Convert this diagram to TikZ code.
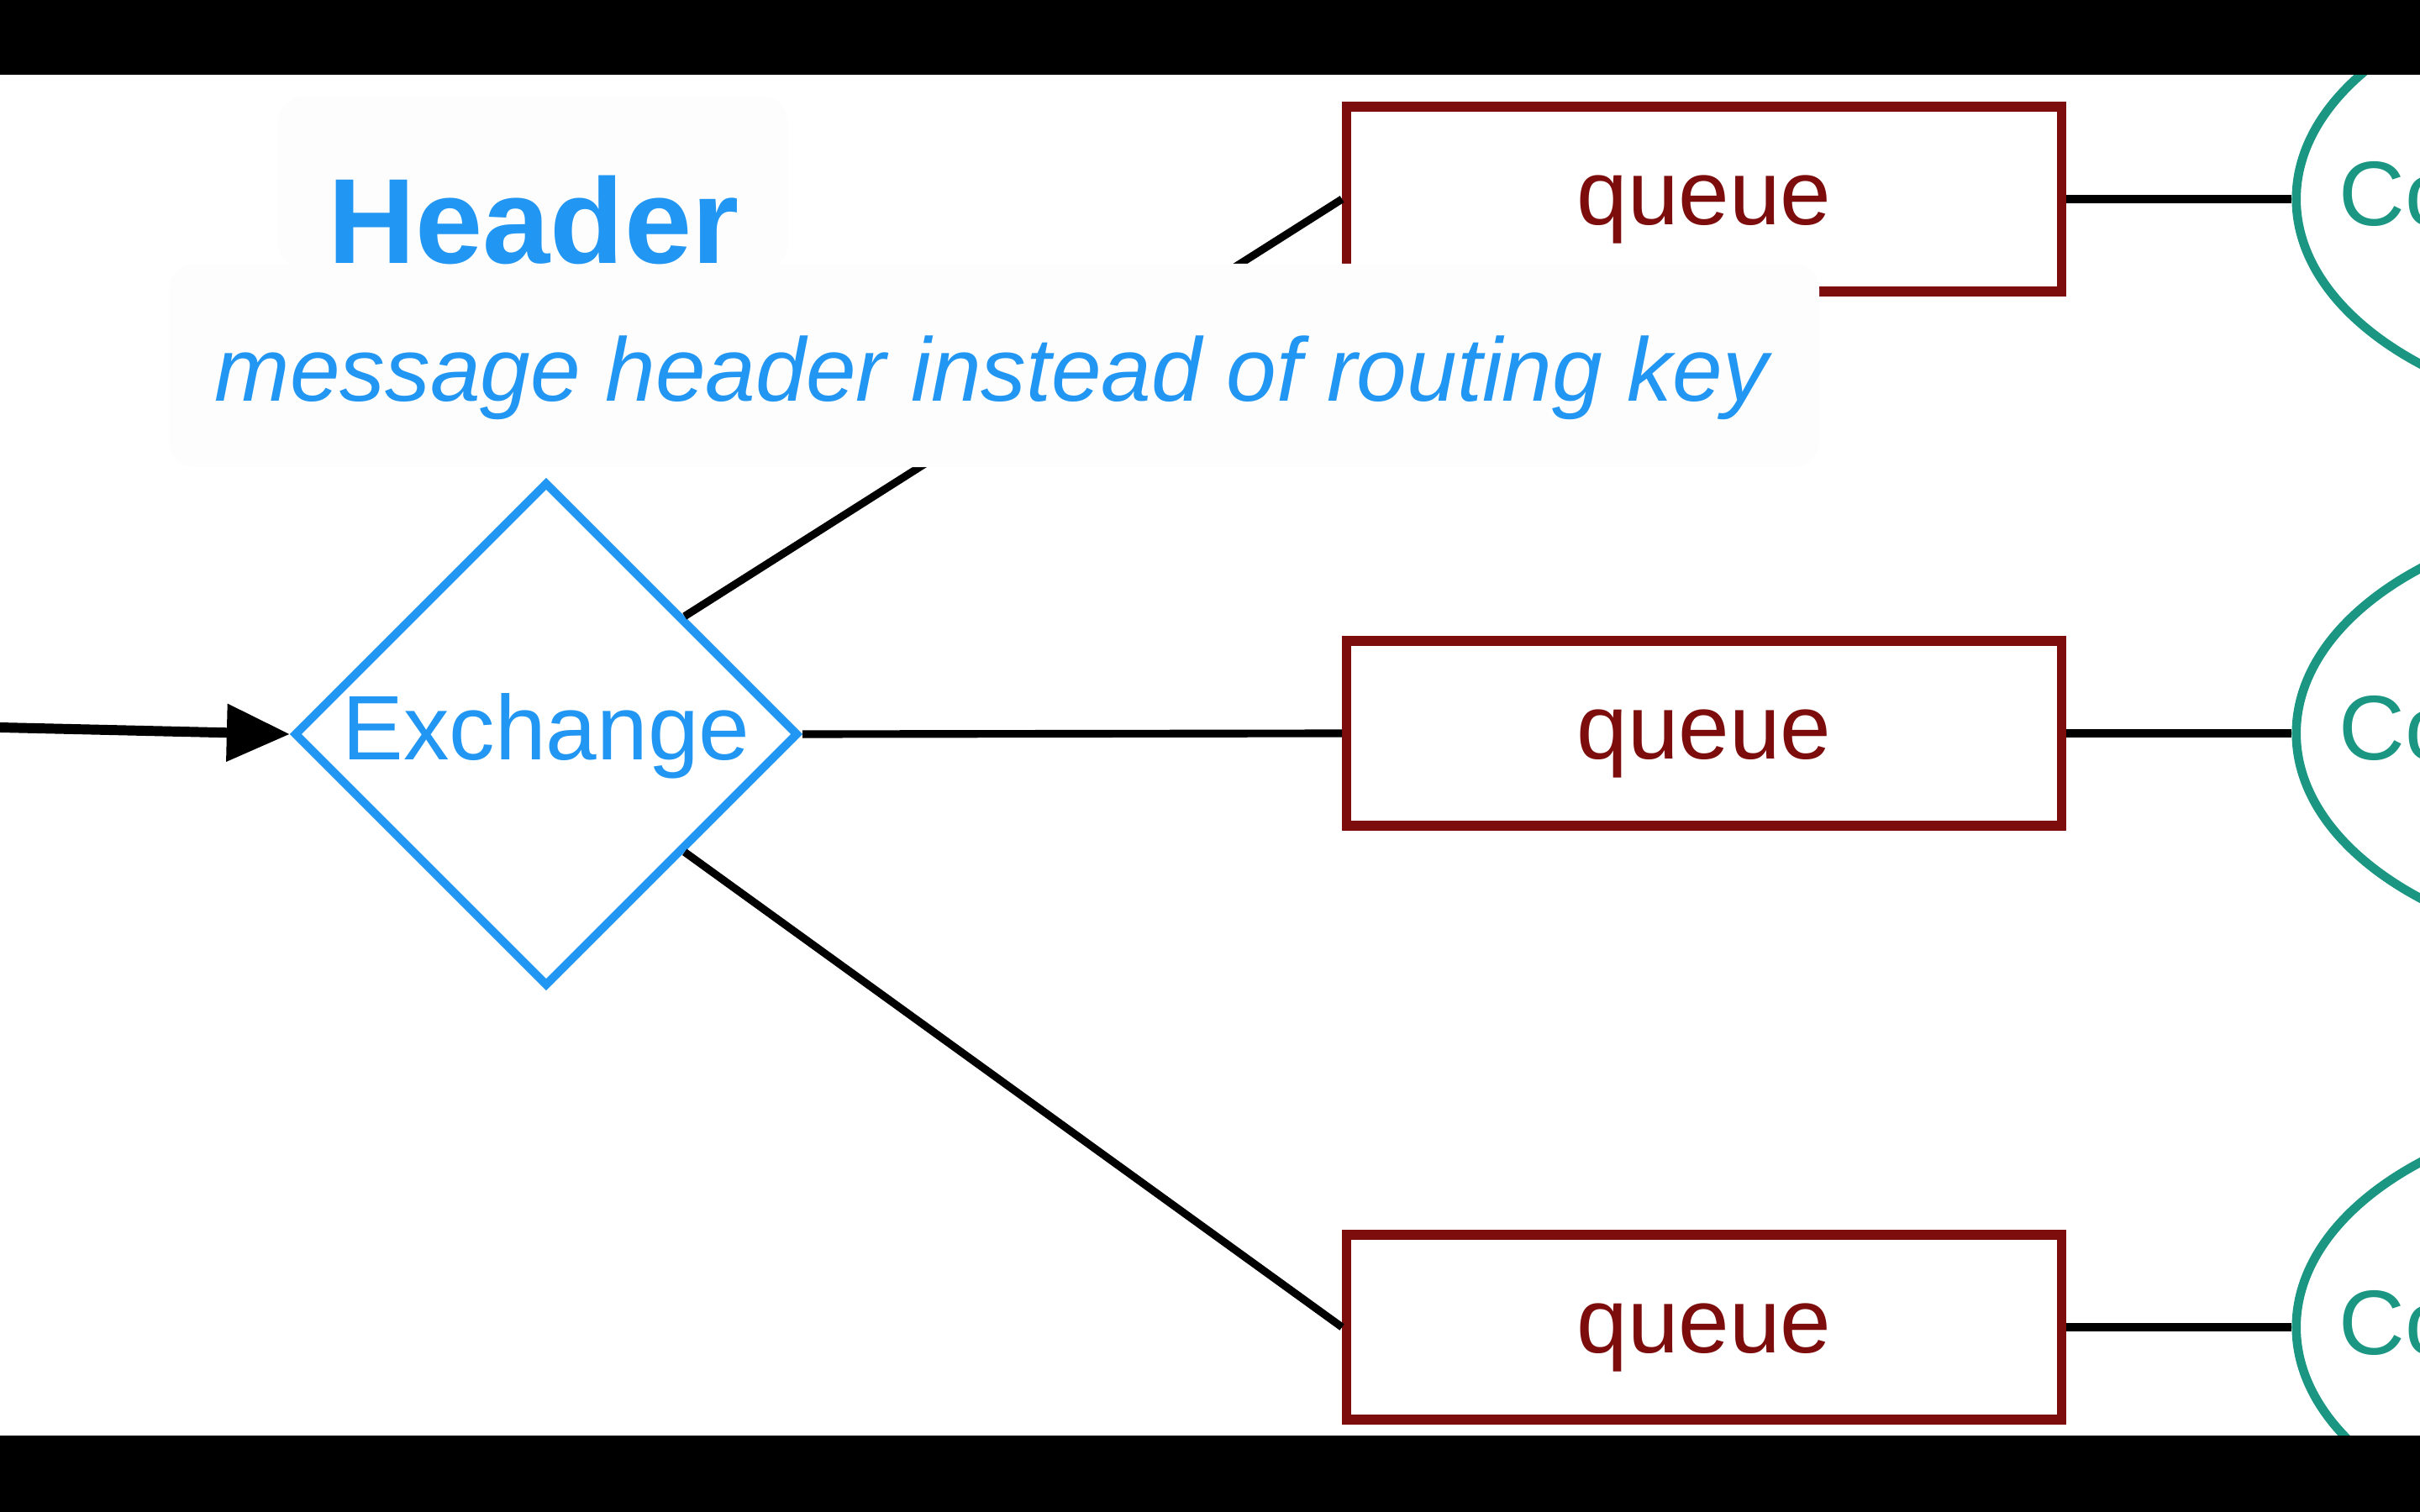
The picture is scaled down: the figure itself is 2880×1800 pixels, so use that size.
\documentclass[tikz,border=0pt]{standalone}
\usepackage{fontspec}
\setmainfont{Liberation Sans}
\usetikzlibrary{shapes.geometric,arrows.meta,calc}

\definecolor{exblue}{RGB}{33,150,243}
\definecolor{qred}{RGB}{125,12,12}
\definecolor{conteal}{RGB}{26,150,130}
\definecolor{panelgray}{RGB}{253,253,253}

\tikzset{
  txt/.style={font=\fontsize{31}{36}\selectfont, text height=22pt, text depth=4.5pt, inner sep=0pt},
  exchange/.style={diamond, draw=exblue, line width=2.8pt, text=exblue, minimum width=6cm, minimum height=6cm, aspect=1, txt},
  queuebox/.style={rectangle, draw=qred, line width=3.2pt, text=qred, fill=white, minimum width=8.5cm, minimum height=2.2cm, txt},
  consumer/.style={ellipse, draw=conteal, line width=3pt, minimum width=9cm, minimum height=5.3cm},
  link/.style={line width=2.6pt, black},
  panel/.style={fill=panelgray, rounded corners=0.3cm},
}

\begin{document}
\begin{tikzpicture}[x=0.01cm, y=-0.01cm] % one unit = one pixel, y downwards
    % Frame of the slide
    \useasboundingbox (0,0) rectangle (2880,1800);
    \clip (0,0) rectangle (2880,1800);

    % Positions
    \def\qx{2028} % x of the queues
    \def\cx{3183} % x of the consumers (cut by the frame)

    % Exchange and incoming arrow
    \node[exchange] (ex) at (650,874) {Exchange};
    \coordinate (in) at (0,866); % free end of the arrow
    \draw[line width=3.4pt, -{Triangle[length=0.75cm, width=0.66cm]}] (in) -- (ex.west);

    % Queues
    \node[queuebox] (q1) at (\qx,237) {queue};
    \node[queuebox] (q2) at (\qx,873) {queue};
    \node[queuebox] (q3) at (\qx,1580) {queue};

    % Bindings from the exchange
    \draw[link] ($(ex.north)!0.54!(ex.east)$) -- (q1.west);
    \draw[link] (ex.east) -- (q2.west);
    \draw[link] ($(ex.south)!0.54!(ex.east)$) -- (q3.west);

    % Consumers
    \node[consumer] (c1) at (\cx,237) {};
    \node[consumer] (c2) at (\cx,873) {};
    \node[consumer] (c3) at (\cx,1580) {};
    \node[txt, text=conteal, anchor=base west] (c1t) at (2783,269) {Co};
    \node[txt, text=conteal, anchor=base west] (c2t) at (2783,904) {Co};
    \node[txt, text=conteal, anchor=base west] (c3t) at (2783,1612) {Co};

    \draw[link] (q1.east) -- (c1.west);
    \draw[link] (q2.east) -- (c2.west);
    \draw[link] (q3.east) -- (c3.west);

    % Caption panels over the diagram
    \fill[panel] (331,115) rectangle (938,320);
    \fill[panel] (201,314) rectangle (2165,556);
    \node[anchor=base, text=exblue, inner sep=0pt, font=\bfseries\fontsize{41}{48}\selectfont] (title) at (635,314) {Header};
    \node[anchor=base, text=exblue, inner sep=0pt, font=\itshape\fontsize{30.5}{36}\selectfont] (subtitle) at (1180,478) {message header instead of routing key};

    % Black bars
    \fill[black] (0,0) rectangle (2880,89);
    \fill[black] (0,1709) rectangle (2880,1800);
\end{tikzpicture}
\end{document}
